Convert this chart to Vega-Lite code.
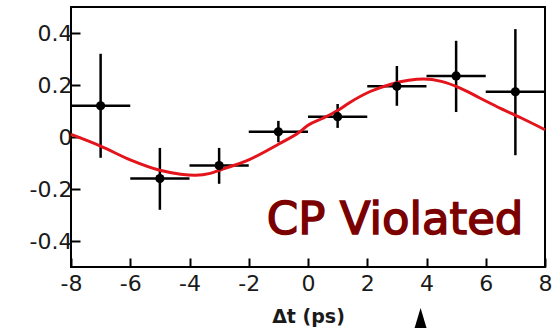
{
  "$schema": "https://vega.github.io/schema/vega-lite/v6.json",
  "width": 474,
  "height": 260,
  "autosize": "none",
  "padding": {"left": 71, "top": 7, "right": 15, "bottom": 61},
  "background": "white",
  "config": {
    "view": {"stroke": "black", "strokeWidth": 2},
    "axis": {"labelFontSize": 22, "labelFont": "DejaVu Sans", "titleFontSize": 19, "labelFlush": false},
    "style": {"guide-label": {"fontSize": 22, "font": "DejaVu Sans"}}
  },
  "datasets": {
    "pts": [
      {"t": -7, "a": 0.12, "lo": -0.08, "hi": 0.32, "t0": -8, "t1": -6},
      {"t": -5, "a": -0.16, "lo": -0.28, "hi": -0.042, "t0": -6, "t1": -4},
      {"t": -3, "a": -0.11, "lo": -0.18, "hi": -0.042, "t0": -4, "t1": -2},
      {"t": -1, "a": 0.02, "lo": -0.02, "hi": 0.062, "t0": -2, "t1": 0},
      {"t": 1, "a": 0.078, "lo": 0.035, "hi": 0.127, "t0": 0, "t1": 2},
      {"t": 3, "a": 0.195, "lo": 0.12, "hi": 0.273, "t0": 2, "t1": 4},
      {"t": 5, "a": 0.235, "lo": 0.096, "hi": 0.37, "t0": 4, "t1": 6},
      {"t": 7, "a": 0.174, "lo": -0.07, "hi": 0.415, "t0": 6, "t1": 8}
    ],
    "fit": [
      {"t": -8, "a": 0.01},
      {"t": -7, "a": -0.035},
      {"t": -6, "a": -0.088},
      {"t": -5, "a": -0.128},
      {"t": -4.3, "a": -0.143},
      {"t": -3.8, "a": -0.147},
      {"t": -3.3, "a": -0.14},
      {"t": -3, "a": -0.128},
      {"t": -2, "a": -0.088},
      {"t": -1, "a": -0.028},
      {"t": -0.3, "a": 0.018},
      {"t": 0, "a": 0.045},
      {"t": 0.5, "a": 0.072},
      {"t": 1, "a": 0.102},
      {"t": 1.4, "a": 0.132},
      {"t": 2.1, "a": 0.175},
      {"t": 2.8, "a": 0.203},
      {"t": 3.4, "a": 0.218},
      {"t": 3.9, "a": 0.223},
      {"t": 4.5, "a": 0.214},
      {"t": 5.1, "a": 0.19},
      {"t": 5.8, "a": 0.15},
      {"t": 6.5, "a": 0.11},
      {"t": 7.2, "a": 0.073},
      {"t": 8, "a": 0.028}
    ],
    "note": [{"t": 2.94, "a": -0.373, "label": "CP Violated"}],
    "arrow": [{"t": 3.8, "a": -0.735}]
  },
  "layer": [
    {
      "mark": {"type": "rule", "color": "black", "strokeWidth": 1, "strokeDash": [2, 2]},
      "encoding": {"y": {"datum": 0, "type": "quantitative", "scale": {"domain": [-0.5, 0.5], "nice": false, "zero": false},
        "axis": {"values": [-0.4, -0.3, -0.2, -0.1, 0, 0.1, 0.2, 0.3, 0.4], "title": null, "grid": false, "domain": false,
          "tickColor": "black", "tickWidth": 2,
          "tickSize": {"condition": {"test": "abs(round(datum.value*10)) % 2 == 1", "value": -5}, "value": -9},
          "labelPadding": 8, "labelFont": "DejaVu Sans", "labelFontSize": 22, "labelColor": "#1a1a1a", "labelFlush": false,
          "labelExpr": "abs(round(datum.value*10)) % 2 == 1 ? '' : (datum.value == 0 ? '0' : (datum.value < 0 ? '-' : '') + format(abs(datum.value), '.1f'))"}}}
    },
    {
      "mark": {"type": "rule", "color": "black", "strokeWidth": 1, "strokeDash": [2, 2]},
      "encoding": {"x": {"datum": 0, "type": "quantitative", "scale": {"domain": [-8, 8], "nice": false, "zero": false},
        "axis": {"values": [-8, -6, -4, -2, 0, 2, 4, 6, 8], "grid": false, "domain": false, "tickColor": "black", "tickWidth": 2,
          "tickSize": -9, "labelPadding": 15, "labelFont": "DejaVu Sans", "labelFontSize": 22, "labelColor": "#1a1a1a", "labelFlush": false,
          "title": "Δt (ps)", "titlePadding": 13, "titleFont": "DejaVu Sans", "titleFontSize": 19, "titleColor": "#1a1a1a", "titleFontWeight": "bold",
          "labelExpr": "(datum.value < 0 ? '-' : '') + format(abs(datum.value), 'd')"}}}
    },
    {
      "data": {"name": "pts"},
      "mark": {"type": "rule", "color": "black", "strokeWidth": 2.5},
      "encoding": {"x": {"field": "t0", "type": "quantitative"}, "x2": {"field": "t1"}, "y": {"field": "a", "type": "quantitative"}}
    },
    {
      "data": {"name": "pts"},
      "mark": {"type": "rule", "color": "black", "strokeWidth": 2.5},
      "encoding": {"x": {"field": "t", "type": "quantitative"}, "y": {"field": "lo", "type": "quantitative"}, "y2": {"field": "hi"}}
    },
    {
      "data": {"name": "fit"},
      "mark": {"type": "line", "color": "#e3141b", "strokeWidth": 3, "interpolate": "monotone"},
      "encoding": {"x": {"field": "t", "type": "quantitative"}, "y": {"field": "a", "type": "quantitative"}}
    },
    {
      "data": {"name": "pts"},
      "mark": {"type": "point", "filled": true, "color": "black", "opacity": 1, "size": 85},
      "encoding": {"x": {"field": "t", "type": "quantitative"}, "y": {"field": "a", "type": "quantitative"}}
    },
    {
      "data": {"name": "note"},
      "mark": {"type": "text", "font": "DejaVu Sans", "fontSize": 45, "color": "#7b0000", "stroke": "#7b0000", "strokeWidth": 1.5, "baseline": "alphabetic", "align": "center"},
      "encoding": {"x": {"field": "t", "type": "quantitative"}, "y": {"field": "a", "type": "quantitative"}, "text": {"field": "label"}}
    },
    {
      "data": {"name": "arrow"},
      "mark": {"type": "point", "filled": true, "color": "black", "opacity": 1, "size": 1600, "shape": "M0,-1L0.6,1L-0.6,1Z", "clip": false},
      "encoding": {"x": {"field": "t", "type": "quantitative"}, "y": {"field": "a", "type": "quantitative"}}
    }
  ]
}
